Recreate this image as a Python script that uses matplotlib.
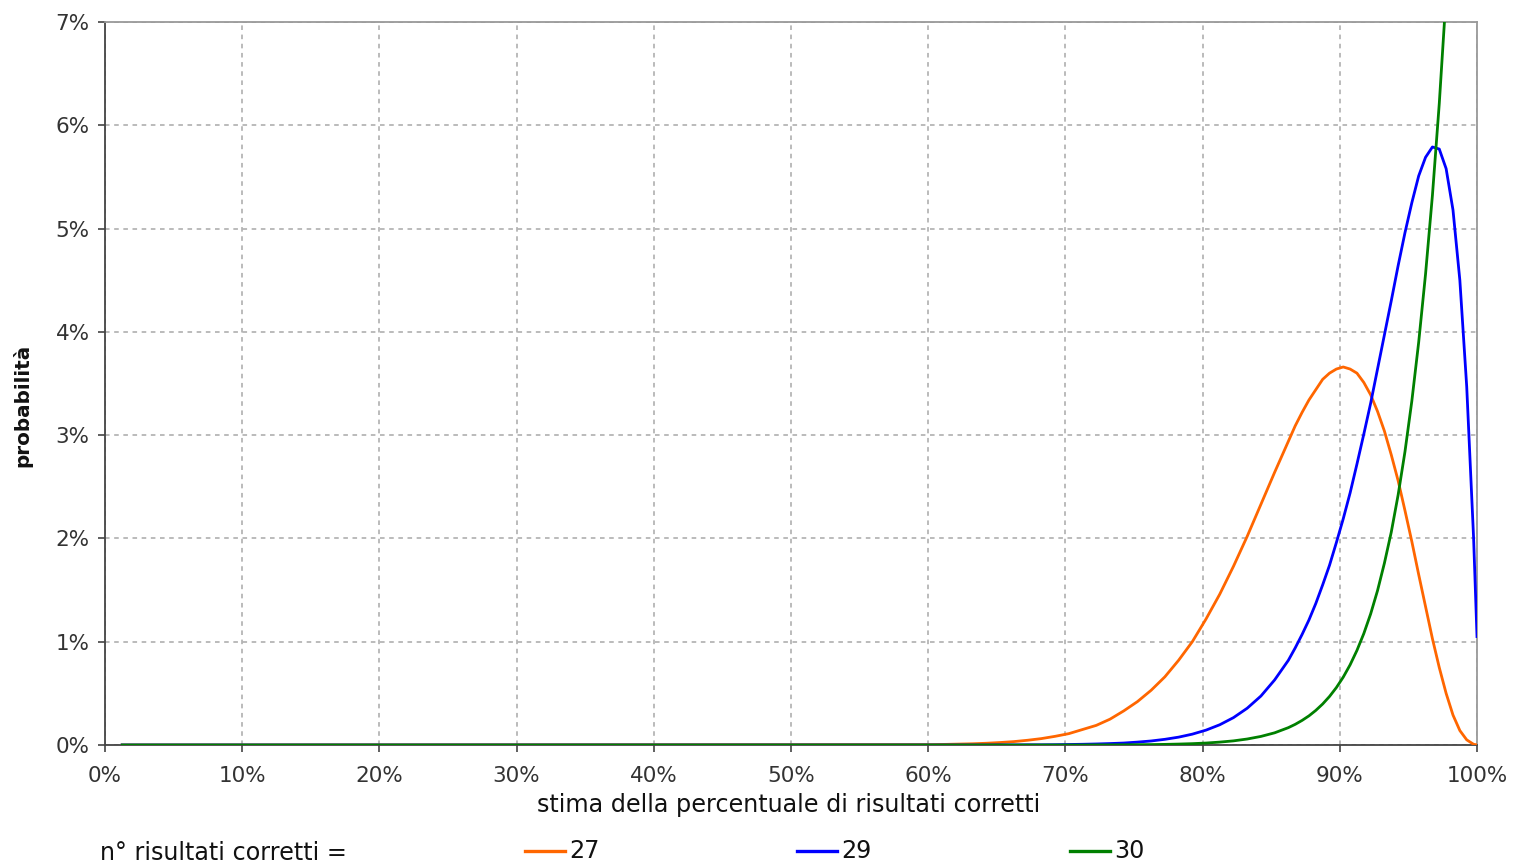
import matplotlib

matplotlib.use('Agg')
import matplotlib.pyplot as plt
from matplotlib.lines import Line2D
from matplotlib.ticker import FuncFormatter

# posizione sull'asse x (stima, in %) e probabilita' (in %)
x_pct = [1.25,
         60.25, 61.25, 62.25, 63.25, 64.25, 65.25, 66.25, 67.25, 68.25, 69.25,
         70.25, 71.25, 72.25, 73.25, 74.25, 75.25, 76.25, 77.25, 78.25, 79.25,
         80.25, 81.25, 82.25, 83.25, 84.25, 85.25,
         86.25, 86.75, 87.25, 87.75, 88.25, 88.75, 89.25, 89.75, 90.25, 90.75,
         91.25, 91.75, 92.25, 92.75, 93.25, 93.75, 94.25, 94.75, 95.25, 95.75,
         96.25, 96.75, 97.25, 97.75, 98.25, 98.75, 99.25, 99.75,
         100]

prob_27 = [0,
           0.004, 0.006, 0.009, 0.012, 0.017, 0.024, 0.033, 0.046, 0.062, 0.084,
           0.11, 0.15, 0.19, 0.25, 0.33, 0.42, 0.53, 0.66, 0.82, 1.00,
           1.22, 1.46, 1.73, 2.02, 2.33, 2.64,
           2.94, 3.09, 3.22, 3.34, 3.44, 3.54, 3.60, 3.64, 3.66, 3.64,
           3.60, 3.51, 3.39, 3.23, 3.04, 2.81, 2.56, 2.27, 1.97, 1.65,
           1.34, 1.03, 0.75, 0.50, 0.29, 0.14, 0.05, 0.007,
           0.001]

prob_29 = [0,
           0, 0, 0, 0, 0, 0.001, 0.001, 0.002, 0.002, 0.003,
           0.005, 0.007, 0.010, 0.014, 0.019, 0.028, 0.039, 0.055, 0.076, 0.105,
           0.144, 0.196, 0.265, 0.356, 0.474, 0.63,
           0.82, 0.94, 1.07, 1.21, 1.37, 1.55, 1.74, 1.96, 2.19, 2.44,
           2.72, 3.01, 3.31, 3.64, 3.97, 4.30, 4.64, 4.96, 5.25, 5.51,
           5.69, 5.79, 5.77, 5.58, 5.18, 4.50, 3.47, 2.01,
           1.05]

prob_30 = [0,
           0, 0, 0, 0, 0, 0, 0, 0, 0, 0,
           0, 0, 0.001, 0.001, 0.002, 0.003, 0.004, 0.006, 0.009, 0.013,
           0.019, 0.028, 0.040, 0.058, 0.083, 0.118,
           0.168, 0.200, 0.238, 0.282, 0.335, 0.397, 0.47, 0.556, 0.657, 0.776,
           0.916, 1.079, 1.27, 1.495, 1.76, 2.06, 2.42, 2.84, 3.33, 3.90,
           4.56, 5.32, 6.21, 7.26, 8.46, 9.85, 11.47, 13.34,
           14.4]

series = [('27', prob_27, '#ff6600'), ('29', prob_29, '#0000ff'), ('30', prob_30, '#008000')]

x_ticks = list(range(0, 101, 10))
y_ticks = list(range(0, 8))

plt.rcParams['font.family'] = ['DejaVu Sans']

fig = plt.figure(figsize=(15.14, 8.65), dpi=100)
ax = fig.add_axes([105 / 1514, 1 - 745 / 865, (1477 - 105) / 1514, (745 - 22) / 865])

for name, y, color in series:
    ax.plot(x_pct, y, color=color, linewidth=2.0, zorder=3)

ax.set_xlim(0, 100)
ax.set_ylim(0, 7)
ax.set_xticks(x_ticks)
ax.set_yticks(y_ticks)
ax.xaxis.set_major_formatter(FuncFormatter(lambda v, p: '%d%%' % v))
ax.yaxis.set_major_formatter(FuncFormatter(lambda v, p: '%d%%' % v))
ax.tick_params(axis='both', direction='out', length=5, width=1.2, color='#444444',
               labelsize=15.5, labelcolor='#333333')
ax.tick_params(axis='x', pad=10)
ax.tick_params(axis='y', pad=6)

ax.grid(True, color='#a8a8a8', linestyle=(0, (3, 3)), linewidth=1.1)
ax.set_axisbelow(True)
for side in ['left', 'bottom']:
    ax.spines[side].set_color('#444444')
    ax.spines[side].set_linewidth(1.3)
for side in ['top', 'right']:
    ax.spines[side].set_color('#999999')
    ax.spines[side].set_linewidth(1.3)

fig.text(789 / 1514, 1 - 805 / 865, 'stima della percentuale di risultati corretti',
         ha='center', va='center', fontsize=17.2, color='#111111')
fig.text(22 / 1514, 1 - 405 / 865, 'probabilità', rotation=90, ha='center', va='center',
         fontsize=14.4, fontweight='bold', color='#111111')

# legenda in basso
fig.text(100 / 1514, 1 - 853 / 865, 'n° risultati corretti =', ha='left', va='center',
         fontsize=17.2, color='#111111')
leg_x = [525, 797, 1070]
for (name, y, color), lx in zip(series, leg_x):
    fig.add_artist(Line2D([lx / 1514, (lx + 40) / 1514], [1 - 851 / 865, 1 - 851 / 865],
                          color=color, linewidth=2.4, transform=fig.transFigure))
    fig.text((lx + 44) / 1514, 1 - 851 / 865, name, ha='left', va='center',
             fontsize=17.2, color='#111111')

fig.savefig('out.png', dpi=100)
